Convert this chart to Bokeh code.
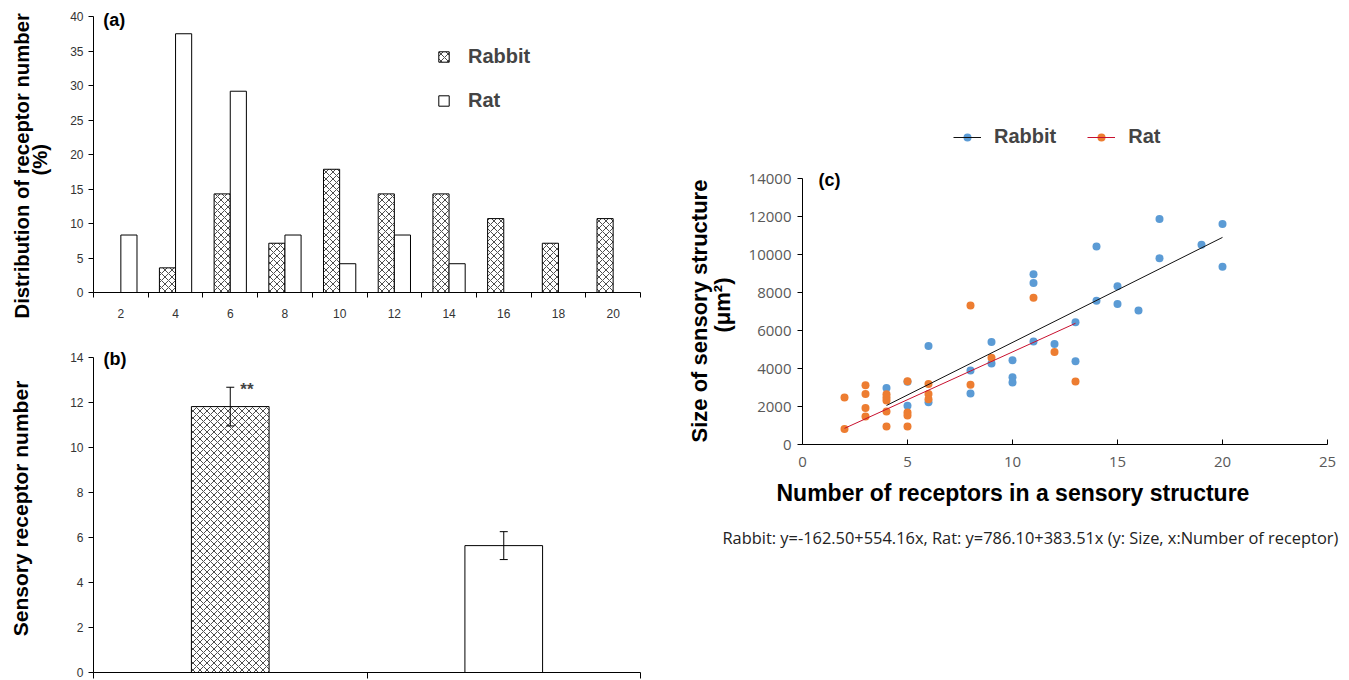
import math
from bokeh.plotting import figure
from bokeh.models import (ColumnDataSource, FixedTicker, Label, Legend, LegendItem,
                          Whisker, TeeHead, Range1d, Title)
from bokeh.layouts import row, column
from bokeh.transform import dodge
from bokeh.embed import file_html
from bokeh.resources import INLINE

# ---------------- data ----------------
# (a) distribution of receptor number (%)
bins = [2, 4, 6, 8, 10, 12, 14, 16, 18, 20]
bin_labels = [str(b) for b in bins]
rabbit_pct = [0, 3.57, 14.29, 7.14, 17.86, 14.29, 14.29, 10.71, 7.14, 10.71]
rat_pct = [8.33, 37.5, 29.17, 8.33, 4.17, 8.33, 4.17, 0, 0, 0]

# (b) sensory receptor number (mean, error)
groups = ["Rabbit", "Rat"]
group_pos = [1, 2]
mean_num = [11.82, 5.64]
err_num = [0.86, 0.62]

# (c) size vs number of receptors
rabbit_x = [4, 5, 5, 6, 6, 8, 8, 9, 9, 10, 10, 10, 11, 11, 11, 12, 13, 13, 14, 14,
            15, 15, 16, 17, 17, 19, 20, 20]
rabbit_y = [2970, 3300, 2040, 5190, 2230, 3890, 2690, 5390, 4260, 4440, 3540, 3260,
            8960, 8500, 5420, 5290, 6430, 4380, 10420, 7560, 8330, 7390, 7050,
            11870, 9800, 10510, 11610, 9350]
rat_x = [2, 2, 3, 3, 3, 3, 4, 4, 4, 4, 4, 5, 5, 5, 5, 6, 6, 6, 8, 8, 9, 11, 12, 13]
rat_y = [2480, 820, 3120, 2660, 1920, 1480, 2650, 2480, 2310, 1740, 950, 3330, 1680,
         1530, 950, 3190, 2660, 2380, 7310, 3150, 4560, 7720, 4870, 3310]
rabbit_trend_x = [4, 20]
rabbit_trend_y = [2054, 10900]
rat_trend_x = [2, 13]
rat_trend_y = [850, 6380]
equation_text = ("Rabbit: y=-162.50+554.16x, Rat: y=786.10+383.51x "
                 "(y: Size, x:Number of receptor)")

FONT = "Liberation Sans"
BLUE = "#5B9BD5"
ORANGE = "#ED7D31"


def style_axes(p, size="12px", color="#333333"):
    p.outline_line_color = None
    p.grid.visible = False
    for ax in p.axis:
        ax.axis_line_color = "black"
        ax.major_tick_line_color = "black"
        ax.minor_tick_line_color = "black"
        ax.major_label_text_font = FONT
        ax.major_label_text_font_size = size
        ax.major_label_text_color = color
        ax.axis_label_text_font = FONT
        ax.axis_label_text_font_style = "bold"
        ax.axis_label_text_color = "black"


def lab(p, x, y, text, size="18px", bold=True, align="left", color="black"):
    p.add_layout(Label(x=x, y=y, text=text, text_align=align,
                       text_baseline="middle", text_font=FONT,
                       text_font_size=size, text_color=color,
                       text_font_style="bold" if bold else "normal"))


def side_title(p, text, where, offset, standoff, size, bold=True, font=FONT,
               color="black"):
    p.add_layout(Title(text=text, align="left", offset=offset, standoff=standoff,
                       text_font=font, text_font_size=size,
                       text_font_style="bold" if bold else "normal",
                       text_color=color), where)


# ---------------- panel (a) ----------------
pa = figure(width=660, height=330, x_range=Range1d(1, 21), y_range=Range1d(0, 41.74),
            output_backend="svg", toolbar_location=None,
            min_border_left=93, min_border_right=9, min_border_top=4,
            min_border_bottom=38)
style_axes(pa)
src_a = ColumnDataSource(dict(x=bins, rabbit=rabbit_pct, rat=rat_pct))
rb_a = pa.vbar(x=dodge("x", -0.295, range=pa.x_range), top="rabbit", width=0.59,
               source=src_a, fill_color="white", line_color="black", line_width=1,
               hatch_pattern="diagonal_cross", hatch_scale=7, hatch_weight=0.7,
               hatch_color="black")
rt_a = pa.vbar(x=dodge("x", 0.295, range=pa.x_range), top="rat", width=0.59,
               source=src_a, fill_color="white", line_color="black", line_width=1)
pa.xaxis.ticker = FixedTicker(ticks=bins, minor_ticks=[b - 1 for b in bins] + [21])
pa.xaxis.major_label_overrides = {b: s for b, s in zip(bins, bin_labels)}
pa.xaxis.major_tick_out = 0
pa.xaxis.major_tick_in = 0
pa.xaxis.minor_tick_out = 5
pa.xaxis.minor_tick_in = 0
pa.xaxis.major_label_standoff = 11
pa.yaxis.ticker = FixedTicker(ticks=list(range(0, 41, 5)))
pa.yaxis.bounds = (0, 40)
pa.yaxis.major_tick_out = 5
pa.yaxis.major_tick_in = 0
pa.yaxis.major_label_standoff = 5

# y-axis title of (a), two lines
side_title(pa, "(%)", "left", offset=117, standoff=34, size="20.3px")
side_title(pa, "Distribution of receptor number", "left", offset=-26, standoff=-46,
           size="20.3px")

leg_a = Legend(items=[LegendItem(label="Rabbit", renderers=[rb_a]),
                      LegendItem(label="Rat", renderers=[rt_a])],
               location=(344, 180), orientation="vertical",
               glyph_width=13, glyph_height=13, label_standoff=18, spacing=21,
               label_height=20, padding=0, margin=0,
               label_text_font=FONT, label_text_font_size="20px",
               label_text_font_style="bold", border_line_color=None,
               background_fill_alpha=0)
pa.add_layout(leg_a)


def ax_(px):
    return 1 + (px - 93) / 27.9


def ay_(py):
    return (292 - py) / 6.9


lab(pa, ax_(103), ay_(19), "(a)", size="18px")

# ---------------- panel (b) ----------------
pb = figure(width=660, height=350, x_range=Range1d(0.5, 2.5), y_range=Range1d(0, 14.58),
            output_backend="svg", toolbar_location=None,
            min_border_left=93, min_border_right=20, min_border_top=14,
            min_border_bottom=8)
style_axes(pb)
src_b = ColumnDataSource(dict(
    x=group_pos, name=groups, top=mean_num,
    upper=[m + e for m, e in zip(mean_num, err_num)],
    lower=[m - e for m, e in zip(mean_num, err_num)],
    hatch=["diagonal_cross", " "]))
pb.vbar(x="x", top="top", width=0.284, source=src_b, fill_color="white",
        line_color="black", line_width=1, hatch_pattern="hatch", hatch_scale=7,
        hatch_weight=0.7, hatch_color="black")
wh = Whisker(base="x", upper="upper", lower="lower", source=src_b,
             line_color="black", line_width=1, level="annotation",
             upper_head=TeeHead(size=8, line_color="black", line_width=1),
             lower_head=TeeHead(size=8, line_color="black", line_width=1))
pb.add_layout(wh)
pb.xaxis.ticker = FixedTicker(ticks=[], minor_ticks=[0.5, 1.5, 2.5])
pb.xaxis.major_tick_out = 0
pb.xaxis.minor_tick_out = 6
pb.xaxis.minor_tick_in = 0
pb.xaxis.major_label_standoff = 0
pb.yaxis.ticker = FixedTicker(ticks=list(range(0, 15, 2)))
pb.yaxis.bounds = (0, 14)
pb.yaxis.major_tick_out = 5
pb.yaxis.major_tick_in = 0
pb.yaxis.major_label_standoff = 5
pb.yaxis.axis_label = "Sensory receptor number"
pb.yaxis.axis_label_text_font_size = "21px"
pb.yaxis.axis_label_standoff = 35


def bx_(px):
    return 0.5 + (px - 93) / 273.5


def by_(py):
    return (672 - py) / 22.5


lab(pb, bx_(103), by_(358), "(b)", size="18px")
lab(pb, group_pos[0] + 0.037, mean_num[0] + err_num[0] - 0.1, "**", size="17px",
    color="#444444")

# ---------------- panel (c) ----------------
pc = figure(width=689, height=680, x_range=Range1d(0, 25), y_range=Range1d(0, 17579),
            output_backend="svg", toolbar_location=None,
            min_border_left=142, min_border_right=22, min_border_top=110,
            min_border_bottom=236)
style_axes(pc, size="15px", color="#595959")
for ax in pc.axis:
    ax.major_label_text_font = "Open Sans"
rb_s = pc.scatter(rabbit_x, rabbit_y, size=8, fill_color=BLUE, line_color=None)
rt_s = pc.scatter(rat_x, rat_y, size=8, fill_color=ORANGE, line_color=None)
rb_l = pc.line(rabbit_trend_x, rabbit_trend_y, line_color="#111111", line_width=1)
rt_l = pc.line(rat_trend_x, rat_trend_y, line_color="#C8102E", line_width=1)
pc.xaxis.ticker = FixedTicker(ticks=list(range(0, 26, 5)))
pc.xaxis.major_tick_in = 5
pc.xaxis.major_tick_out = 0
pc.xaxis.major_label_standoff = 12
pc.yaxis.ticker = FixedTicker(ticks=list(range(0, 14001, 2000)))
pc.yaxis.bounds = (0, 14000)
pc.yaxis.major_tick_in = 0
pc.yaxis.major_tick_out = 5
pc.yaxis.major_label_standoff = 6

leg_c = Legend(items=[LegendItem(label="Rabbit", renderers=[rb_s, rb_l]),
                      LegendItem(label="Rat", renderers=[rt_s, rt_l])],
               location=(151, 296), orientation="horizontal",
               glyph_width=28, glyph_height=20, label_standoff=13, spacing=31,
               padding=0, margin=0, label_text_font=FONT,
               label_text_font_size="20px", label_text_font_style="bold",
               border_line_color=None, background_fill_alpha=0)
pc.add_layout(leg_c)


def cx_(px):
    return (px - 802) / 21.0


def cy_(py):
    return (444 - py) * 14000 / 266.0


lab(pc, cx_(818), cy_(179), "(c)", size="18px")

# y-axis title (two lines) and x-axis title / equation as side-panel titles
side_title(pc, "(μm²)", "left", offset=112, standoff=22, size="22px")
side_title(pc, "Size of sensory structure", "left", offset=2, standoff=-30,
           size="22px")
side_title(pc, "Number of receptors in a sensory structure", "below", offset=-26,
           standoff=16, size="23px")
side_title(pc, equation_text, "below", offset=-80, standoff=21, size="16.4px",
           bold=False, font="Open Sans", color="#222222")

layout = row(column(pa, pb), pc)
open("out.html", "w").write(file_html(layout, INLINE))
